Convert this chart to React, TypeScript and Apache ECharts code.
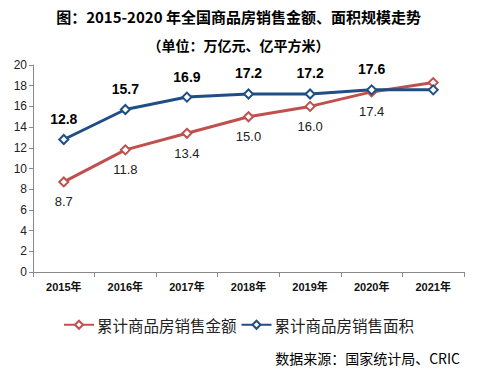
import React, { useEffect, useRef } from "react";
import * as echarts from "echarts";

const categories = ["2015年", "2016年", "2017年", "2018年", "2019年", "2020年", "2021年"];
const salesAmount = [8.7, 11.8, 13.4, 15.0, 16.0, 17.4, 18.3];
const salesArea = [12.8, 15.7, 16.9, 17.2, 17.2, 17.6, 17.6];
const labeledCount = 6;
const yTicks = { min: 0, max: 20, interval: 2 };
const titleText = "图：2015-2020 年全国商品房销售金额、面积规模走势";
const subtitleText = "（单位：万亿元、亿平方米）";
const sourceText = "数据来源：国家统计局、CRIC";
const seriesNames = ["累计商品房销售金额", "累计商品房销售面积"];

export default function App() {
  const ref = useRef<HTMLDivElement>(null);
  useEffect(() => {
    if (!ref.current) return;
    const chart = echarts.init(ref.current, null, { renderer: "svg" });
    const red = "#C0504D";
    const blue = "#1F4E85";
    chart.setOption({
      animation: false,
      backgroundColor: "#fff",
      title: [
        {
          text: titleText,
          left: "center",
          top: 4,
          textStyle: { fontFamily: "Noto Sans CJK SC", fontWeight: "bold", fontSize: 15, color: "#000" },
        },
        {
          text: subtitleText,
          left: "center",
          top: 33,
          textStyle: { fontFamily: "Noto Sans CJK SC", fontWeight: "bold", fontSize: 14, color: "#000" },
        },
      ],
      graphic: [
        {
          type: "text",
          right: 17,
          top: 351,
          style: { text: sourceText, fontFamily: "Noto Sans CJK SC", fontSize: 14, fill: "#000" },
        },
      ],
      legend: {
        top: 312,
        left: "center",
        itemWidth: 30,
        itemHeight: 10,
        itemGap: 4,
        textStyle: { fontFamily: "Noto Sans CJK SC", fontSize: 15.5, color: "#222", padding: [0, 0, 0, -2] },
        data: seriesNames,
      },
      grid: { left: 33, right: 13, top: 65, bottom: 104 },
      xAxis: {
        type: "category",
        data: categories,
        boundaryGap: true,
        axisLine: { lineStyle: { color: "#8a8a8a", width: 1 } },
        axisTick: { show: true, length: 5, lineStyle: { color: "#8a8a8a" } },
        axisLabel: { fontFamily: "Arial, Noto Sans CJK SC", fontWeight: "bold", fontSize: 11, color: "#111", margin: 9 },
      },
      yAxis: {
        type: "value",
        min: yTicks.min,
        max: yTicks.max,
        interval: yTicks.interval,
        axisLine: { show: true, lineStyle: { color: "#8a8a8a", width: 1 } },
        axisTick: { show: true, length: 4, lineStyle: { color: "#8a8a8a" } },
        splitLine: { show: false },
        axisLabel: { fontFamily: "Arial", fontSize: 12, color: "#222", margin: 6 },
      },
      series: [
        {
          name: seriesNames[0],
          type: "line",
          data: salesAmount.map((v, i) => ({
            value: v,
            label: { show: i < labeledCount },
          })),
          symbol: "emptyDiamond",
          symbolSize: 9,
          lineStyle: { color: red, width: 3 },
          itemStyle: { color: red, borderColor: red, borderWidth: 2.5 },
          label: {
            position: "bottom",
            distance: 8,
            formatter: (p: any) => p.value.toFixed(1),
            fontFamily: "Arial",
            fontSize: 13,
            color: "#222",
          },
          z: 2,
        },
        {
          name: seriesNames[1],
          type: "line",
          data: salesArea.map((v, i) => ({
            value: v,
            label: { show: i < labeledCount },
          })),
          symbol: "emptyDiamond",
          symbolSize: 9,
          lineStyle: { color: blue, width: 3 },
          itemStyle: { color: blue, borderColor: blue, borderWidth: 2.5 },
          label: {
            position: "top",
            distance: 8,
            formatter: (p: any) => p.value.toFixed(1),
            fontFamily: "Arial",
            fontWeight: "bold",
            fontSize: 14,
            color: "#000",
          },
          z: 3,
        },
      ],
    });
    return () => chart.dispose();
  }, []);
  return <div ref={ref} style={{ width: 477, height: 376, position: "absolute", left: 0, top: 0 }} />;
}
